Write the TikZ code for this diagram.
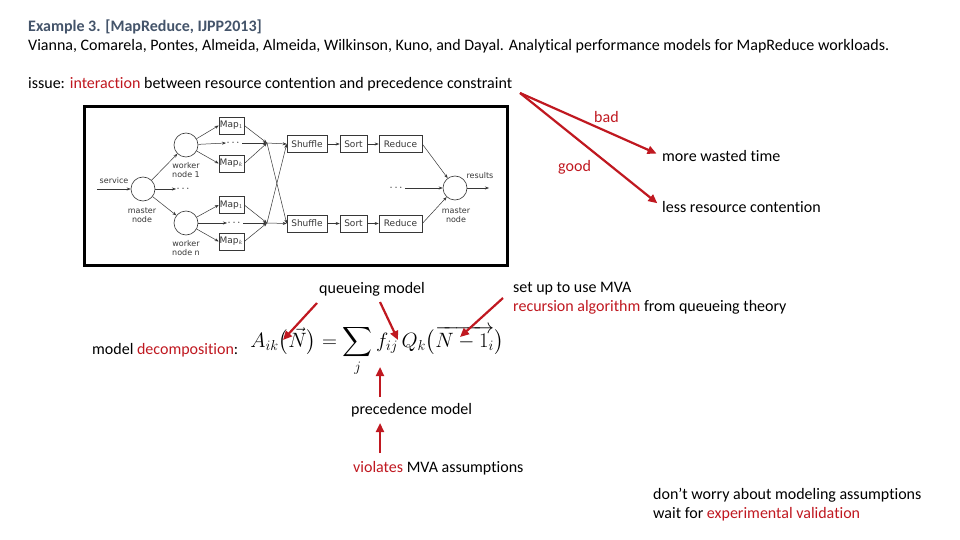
\documentclass[tikz,border=0pt]{standalone}
\usepackage{exscale}
\usepackage{amsmath}
\usepackage{fontspec}
\setmainfont{Carlito}[Ligatures=NoCommon]
\setsansfont{DejaVu Sans}
\usetikzlibrary{arrows.meta}
\definecolor{myred}{RGB}{192,24,32}
\definecolor{titleblue}{RGB}{68,84,106}
\definecolor{dgray}{RGB}{55,55,55}
\tikzset{
  txt/.style={anchor=west, inner sep=0pt, font=\fontsize{16}{19}\selectfont, align=left},
  redarrow/.style={draw=myred, line width=2.2pt, -{Triangle[length=9pt,width=8pt]}},
  qnode/.style={circle, draw=dgray, line width=0.6pt, minimum size=24pt, inner sep=0pt},
  qbox/.style={rectangle, draw=dgray, line width=0.6pt, minimum height=17pt, inner sep=0.5pt, font=\sffamily\fontsize{9}{10}\selectfont, text=dgray},
  small/.style={font=\sffamily\fontsize{8}{9}\selectfont, text=dgray, align=center, inner sep=0pt},
  dots/.style={inner sep=0.5pt, text=black, font=\fontsize{11}{11}\selectfont},
  darr/.style={draw=dgray, line width=0.5pt, -{Stealth[length=4pt,width=3pt]}}
}
\begin{document}
\begin{tikzpicture}[x=1pt,y=-1pt]
\useasboundingbox (0,0) rectangle (960,540);
\fill[white] (0,0) rectangle (960,540);

% header text
\node[txt, text=titleblue, font=\bfseries\fontsize{16}{19}\selectfont] (title) at (28,27) {Example 3. [MapReduce, IJPP2013]};
\node[txt] (authors) at (28,46) {Vianna, Comarela, Pontes, Almeida, Almeida, Wilkinson, Kuno, and Dayal. Analytical performance models for MapReduce workloads.};
\node[txt] (issue) at (28,84) {issue: \textcolor{myred}{interaction} between resource contention and precedence constraint};
\coordinate (iss) at (520,93);

\node[txt, text=myred] (bad) at (594,117) {bad};
\node[txt, text=myred] (good) at (558,167) {good};
\node[txt] (wasted) at (662,156) {more wasted time};
\node[txt] (less) at (662,207) {less resource contention};
\draw[redarrow, shorten >=6pt] (iss) -- (wasted.west);
\draw[redarrow, shorten >=6pt] (iss) -- (less.west);

% embedded figure frame
\draw[line width=3pt] (84,107) rectangle (507,265);

% MapReduce diagram
\node[qnode] (m1) at (143,189) {};
\node[qnode] (w1) at (186,145) {};
\node[qnode] (wn) at (186,223) {};
\node[qnode] (m2) at (455,188) {};
\coordinate (svc) at (97,189);
\node[small] (servicel) at (114,181) {service};
\node[small] (masterl) at (142,215) {master\\node};
\node[small] (w1l) at (186,170) {worker\\node 1};
\node[small] (wnl) at (186,248) {worker\\node n};
\node[small] (master2l) at (456,215) {master\\node};
\node[small] (results) at (480,176) {results};
\node[dots] (dm) at (184,189) {$\cdots$};
\node[dots] (dt) at (234,143) {$\cdots$};
\node[dots] (db) at (235,223) {$\cdots$};
\node[dots] (dr) at (397,188) {$\cdots$};

\node[qbox, minimum width=25pt] (map1t) at (231.5,125.5) {Map$_1$};
\node[qbox, minimum width=25pt] (mapkt) at (231.5,163.5) {Map$_k$};
\node[qbox, minimum width=25pt] (map1b) at (231.5,205) {Map$_1$};
\node[qbox, minimum width=25pt] (mapkb) at (231.5,241.5) {Map$_k$};
\coordinate (mt) at (267,143);
\coordinate (mb) at (267,223);
\node[qbox, minimum width=40pt] (sht) at (307,144) {Shuffle};
\node[qbox, minimum width=27pt] (sot) at (353.5,144) {Sort};
\node[qbox, minimum width=43pt] (ret) at (400.5,144) {Reduce};
\node[qbox, minimum width=40pt] (shb) at (307,223.5) {Shuffle};
\node[qbox, minimum width=27pt] (sob) at (353.5,223.5) {Sort};
\node[qbox, minimum width=43pt] (reb) at (400.5,223.5) {Reduce};
\coordinate (res) at (489,188);

\draw[darr] (svc) -- (m1);
\draw[darr] (m1) -- (w1);
\draw[darr] (m1) -- (wn);
\draw[darr] (m1.east) -- (dm.west);
\draw[darr] (w1) -- (map1t.west);
\draw[darr] (w1) -- (dt.west);
\draw[darr] (w1) -- (mapkt.west);
\draw[darr] (wn) -- (map1b.west);
\draw[darr] (wn) -- (db.west);
\draw[darr] (wn) -- (mapkb.west);
\draw[darr] (map1t.east) -- (mt);
\draw[darr] (dt.east) -- (mt);
\draw[darr] (mapkt.east) -- (mt);
\draw[darr] (map1b.east) -- (mb);
\draw[darr] (db.east) -- (mb);
\draw[darr] (mapkb.east) -- (mb);
\draw[darr] (mt) -- (sht.west);
\draw[darr] (mt) -- (shb.west);
\draw[darr] (mb) -- (shb.west);
\draw[darr] (mb) -- (sht.west);
\draw[darr] (sht) -- (sot);
\draw[darr] (sot) -- (ret);
\draw[darr] (shb) -- (sob);
\draw[darr] (sob) -- (reb);
\draw[darr] (ret.east) -- (m2);
\draw[darr] (reb.east) -- (m2);
\draw[darr] (dr.east) -- (m2);
\draw[darr] (m2) -- (res);

% formula section
\node[txt] (queue) at (319,289) {queueing model};
\node[txt] (setup) at (513,298) {set up to use MVA\\\textcolor{myred}{recursion algorithm} from queueing theory};
\node[txt] (decomp) at (92,350) {model \textcolor{myred}{decomposition}:};
\node[inner sep=0pt] (formula) at (377,351) {\fontsize{21}{25}\selectfont $\displaystyle A_{ik}\bigl(\vec{N}\bigr) = \sum_j f_{ij}\,Q_k\bigl(\overrightarrow{N-1_i}\bigr)$};
\node[txt] (prec) at (351,410) {precedence model};
\node[txt] (viol) at (353,468) {\textcolor{myred}{violates} MVA assumptions};
\node[txt] (worry) at (653,505) {don't worry about modeling assumptions\\wait for \textcolor{myred}{experimental validation}};

\coordinate (qa1) at (317,303);
\coordinate (qb1) at (283,340);
\coordinate (qa2) at (380,302);
\coordinate (qb2) at (398,340);
\coordinate (sa) at (503,298);
\coordinate (sb) at (460,337);
\coordinate (pa) at (380,397);
\coordinate (pb) at (380,367);
\coordinate (va) at (380,453);
\coordinate (vb) at (380,423);
\draw[redarrow] (qa1) -- (qb1);
\draw[redarrow] (qa2) -- (qb2);
\draw[redarrow] (sa) -- (sb);
\draw[redarrow] (pa) -- (pb);
\draw[redarrow] (va) -- (vb);
\end{tikzpicture}
\end{document}
